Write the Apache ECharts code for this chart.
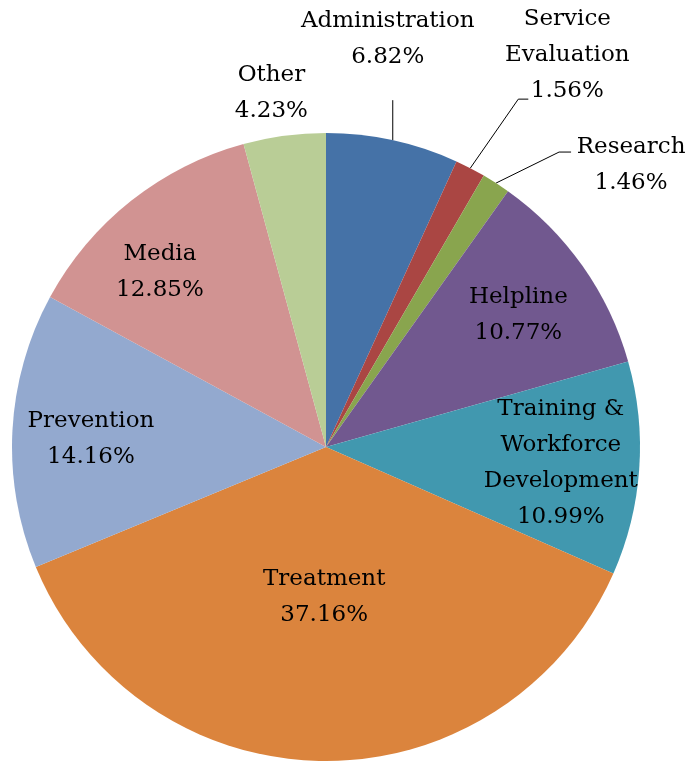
<!DOCTYPE html>
<html>
<head>
<meta charset="utf-8">
<script src="https://cdn.jsdelivr.net/npm/echarts@6/dist/echarts.min.js"></script>
<style>
html, body { margin: 0; padding: 0; background: #fff; }
#chart { width: 688px; height: 761px; }
</style>
</head>
<body>
<div id="chart"></div>
<script>
// data (percent of total)
var categories = ['Administration', 'Service Evaluation', 'Research', 'Helpline',
  'Training & Workforce Development', 'Treatment', 'Prevention', 'Media', 'Other'];
var shares = [6.82, 1.56, 1.46, 10.77, 10.99, 37.16, 14.16, 12.85, 4.23];
var labelNames = ['Administration', 'Service\nEvaluation', 'Research', 'Helpline',
  'Training &\nWorkforce\nDevelopment', 'Treatment', 'Prevention', 'Media', 'Other'];

// which labels sit outside with leader lines, which sit out in the ring
var outerOnes = ['Administration', 'Service Evaluation', 'Research', 'Other'];
var ringOnes = ['Helpline', 'Training & Workforce Development', 'Prevention', 'Media'];

var colors = ['#4572A7', '#AA4643', '#89A54E', '#71588F', '#4198AF',
  '#DB843D', '#93A9CF', '#D19392', '#B9CD96'];

var R = 314;
var center = [326, 447];
var textStyle = { fontFamily: 'DejaVu Serif', fontSize: 23, lineHeight: 36, color: '#000' };

function fmt(p) {
  return labelNames[p.dataIndex] + '\n' + shares[p.dataIndex].toFixed(2) + '%';
}

var mainData = categories.map(function (c, i) {
  var item = { name: c, value: shares[i], itemStyle: { color: colors[i] } };
  if (c === 'Treatment') {
    item.label = { show: true, position: 'inside' };
  } else if (outerOnes.indexOf(c) >= 0) {
    item.label = { show: true, position: 'outside' };
    item.labelLine = { show: true, length: 20, length2: 0,
      lineStyle: { color: '#000', width: 1, opacity: c === 'Other' ? 0 : 1 } };
  } else {
    item.label = { show: false };
  }
  return item;
});

var ringData = categories.map(function (c, i) {
  return {
    name: c, value: shares[i],
    itemStyle: { color: 'rgba(0,0,0,0)' },
    label: { show: ringOnes.indexOf(c) >= 0 }
  };
});

var chart = echarts.init(document.getElementById('chart'));
chart.setOption({
  animation: false,
  series: [{
    type: 'pie',
    center: center,
    radius: [0, R],
    startAngle: 90,
    avoidLabelOverlap: false,
    silent: true,
    itemStyle: { borderWidth: 0 },
    label: Object.assign({ formatter: fmt, align: 'center' }, textStyle),
    labelLine: { lineStyle: { color: '#000', width: 1 } },
    labelLayout: function (p) {
      var name = categories[p.dataIndex];
      if (name === 'Treatment') return { dy: -10 };
      var pts = p.labelLinePoints;
      if (!pts) return {};
      var s = pts[0];
      if (name === 'Administration') {
        return { x: s[0] - 5, y: s[1] - 65, align: 'center', verticalAlign: 'bottom',
          labelLinePoints: [s, [s[0], s[1] - 40]] };
      }
      if (name === 'Service Evaluation') {
        return { x: s[0] + 97, y: s[1] - 59, align: 'center', verticalAlign: 'bottom',
          labelLinePoints: [s, [s[0] + 48, s[1] - 69], [s[0] + 58, s[1] - 69]] };
      }
      if (name === 'Research') {
        return { x: s[0] + 135, y: s[1] - 54, align: 'center', verticalAlign: 'top',
          labelLinePoints: [s, [s[0] + 63, s[1] - 31], [s[0] + 75, s[1] - 31]] };
      }
      if (name === 'Other') {
        return { x: s[0] - 13, y: s[1] - 79, align: 'center', verticalAlign: 'top' };
      }
      return {};
    },
    data: mainData
  }, {
    type: 'pie',
    center: center,
    radius: [R * 0.48, R],
    startAngle: 90,
    silent: true,
    z: 3,
    label: Object.assign({ position: 'inside', formatter: fmt, align: 'center' }, textStyle),
    labelLine: { show: false },
    labelLayout: function (p) {
      var name = categories[p.dataIndex];
      if (name === 'Media') return { dx: -20, dy: 10 };
      if (name === 'Helpline' || name === 'Prevention') return { dy: 4 };
      return {};
    },
    data: ringData
  }]
});
</script>
</body>
</html>
